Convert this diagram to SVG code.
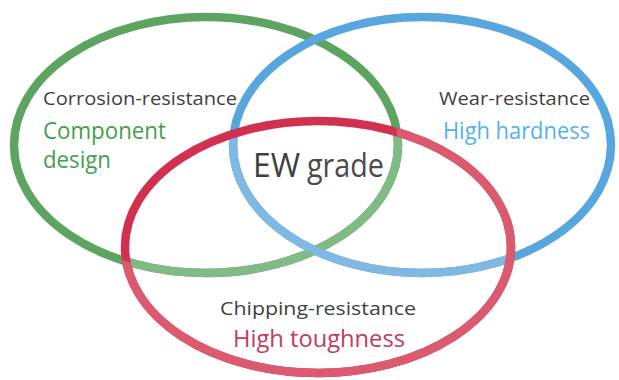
<svg xmlns="http://www.w3.org/2000/svg" width="619" height="380" viewBox="0 0 619 380">
<style>
.ring{fill:none;stroke-width:8.5}
.lbl{font-family:"Open Sans","Noto Sans","Liberation Sans",sans-serif;fill:#3f3f42}
.s{font-size:19px}
.b{font-size:23px}
</style>
<defs>
<clipPath id="inRed"><ellipse cx="318" cy="247" rx="193" ry="126"/></clipPath>
<clipPath id="outGreen"><path fill-rule="evenodd" clip-rule="evenodd" d="M0 0H619V380H0Z M14 145 a192 128 0 1 0 384 0 a192 128 0 1 0 -384 0Z"/></clipPath>
</defs>
<rect width="619" height="380" fill="#ffffff"/>
<g id="corrosion">
<ellipse class="ring" cx="206" cy="145" rx="192" ry="128" stroke="#5da461"/>
<ellipse class="ring" cx="206" cy="145" rx="192" ry="128" stroke="#80ba84" clip-path="url(#inRed)"/>
<text class="lbl s" x="43" y="105" textLength="194" lengthAdjust="spacingAndGlyphs">Corrosion-resistance</text>
<text class="lbl b" x="43" y="139" style="fill:#44a04e" textLength="123" lengthAdjust="spacingAndGlyphs">Component</text>
<text class="lbl b" x="43" y="168" style="fill:#44a04e" textLength="68" lengthAdjust="spacingAndGlyphs">design</text>
</g>
<g id="wear">
<ellipse class="ring" cx="422" cy="145" rx="189" ry="128" stroke="#58a6de"/>
<ellipse class="ring" cx="422" cy="145" rx="189" ry="128" stroke="#7fb9e3" clip-path="url(#inRed)"/>
<text class="lbl s" x="439" y="105" textLength="151" lengthAdjust="spacingAndGlyphs">Wear-resistance</text>
<text class="lbl b" x="443" y="139" style="fill:#55b2e7" textLength="147" lengthAdjust="spacingAndGlyphs">High hardness</text>
</g>
<g id="chipping">
<ellipse class="ring" cx="318" cy="247" rx="193" ry="126" stroke="#d2304f"/>
<ellipse class="ring" cx="318" cy="247" rx="193" ry="126" stroke="#db5a6f" clip-path="url(#outGreen)"/>
<text class="lbl s" x="220" y="315" textLength="196" lengthAdjust="spacingAndGlyphs">Chipping-resistance</text>
<text class="lbl b" x="233" y="347" style="fill:#c23b5e" textLength="172" lengthAdjust="spacingAndGlyphs">High toughness</text>
</g>
<g id="ew-grade">
<text class="lbl" x="253" y="177" font-size="33" textLength="47" lengthAdjust="spacingAndGlyphs">EW</text>
<text class="lbl" x="307" y="177" font-size="33" style="fill:#4a4a4d" textLength="77" lengthAdjust="spacingAndGlyphs">grade</text>
</g>
<g id="connectors"/>
</svg>
